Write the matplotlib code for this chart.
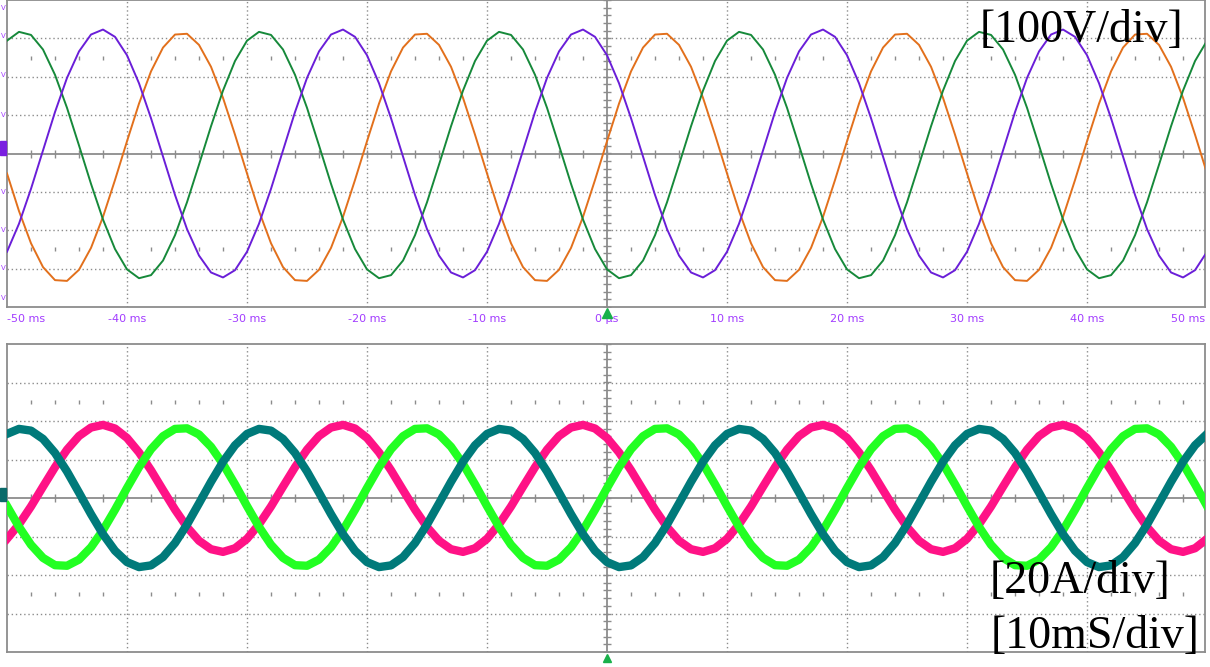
import numpy as np
import matplotlib
matplotlib.use("Agg")
import matplotlib.pyplot as plt
from matplotlib.patches import Rectangle

# time base of the scope capture, 1 ms per sample
time_ms = np.arange(-50, 51)

# phase voltages [V] (100 V/div)
v_green = [294, 317, 309, 271, 205, 119, 21, -79, -172, -249, -302, -325, -317, -279, -213, -127, -29, 71, 164, 241,
           294, 317, 309, 271, 205, 119, 21, -79, -172, -249, -302, -325, -317, -279, -213, -127, -29, 71, 164, 241,
           294, 317, 309, 271, 205, 119, 21, -79, -172, -249, -302, -325, -317, -279, -213, -127, -29, 71, 164, 241,
           294, 317, 309, 271, 205, 119, 21, -79, -172, -249, -302, -325, -317, -279, -213, -127, -29, 71, 164, 241,
           294, 317, 309, 271, 205, 119, 21, -79, -172, -249, -302, -325, -317, -279, -213, -127, -29, 71, 164, 241,
           294]
v_purple = [-256, -183, -92, 8, 108, 197, 266, 310, 323, 304, 256, 183, 92, -8, -108, -197, -266, -310, -323, -304,
            -256, -183, -92, 8, 108, 197, 266, 310, 323, 304, 256, 183, 92, -8, -108, -197, -266, -310, -323, -304,
            -256, -183, -92, 8, 108, 197, 266, 310, 323, 304, 256, 183, 92, -8, -108, -197, -266, -310, -323, -304,
            -256, -183, -92, 8, 108, 197, 266, 310, 323, 304, 256, 183, 92, -8, -108, -197, -266, -310, -323, -304,
            -256, -183, -92, 8, 108, 197, 266, 310, 323, 304, 256, 183, 92, -8, -108, -197, -266, -310, -323, -304,
            -256]
v_orange = [-52, -150, -234, -296, -330, -332, -303, -246, -165, -69, 32, 130, 214, 276, 310, 312, 283, 226, 145, 49,
            -52, -150, -234, -296, -330, -332, -303, -246, -165, -69, 32, 130, 214, 276, 310, 312, 283, 226, 145, 49,
            -52, -150, -234, -296, -330, -332, -303, -246, -165, -69, 32, 130, 214, 276, 310, 312, 283, 226, 145, 49,
            -52, -150, -234, -296, -330, -332, -303, -246, -165, -69, 32, 130, 214, 276, 310, 312, 283, 226, 145, 49,
            -52, -150, -234, -296, -330, -332, -303, -246, -165, -69, 32, 130, 214, 276, 310, 312, 283, 226, 145, 49,
            -52]

# phase currents [A] (20 A/div)
i_teal = [33.3, 35.9, 35.0, 30.7, 23.4, 13.8, 2.8, -8.4, -18.8, -27.4, -33.3, -35.9, -35.0, -30.7, -23.4, -13.8, -2.8, 8.4, 18.8, 27.4,
          33.3, 35.9, 35.0, 30.7, 23.4, 13.8, 2.8, -8.4, -18.8, -27.4, -33.3, -35.9, -35.0, -30.7, -23.4, -13.8, -2.8, 8.4, 18.8, 27.4,
          33.3, 35.9, 35.0, 30.7, 23.4, 13.8, 2.8, -8.4, -18.8, -27.4, -33.3, -35.9, -35.0, -30.7, -23.4, -13.8, -2.8, 8.4, 18.8, 27.4,
          33.3, 35.9, 35.0, 30.7, 23.4, 13.8, 2.8, -8.4, -18.8, -27.4, -33.3, -35.9, -35.0, -30.7, -23.4, -13.8, -2.8, 8.4, 18.8, 27.4,
          33.3, 35.9, 35.0, 30.7, 23.4, 13.8, 2.8, -8.4, -18.8, -27.4, -33.3, -35.9, -35.0, -30.7, -23.4, -13.8, -2.8, 8.4, 18.8, 27.4,
          33.3]
i_lime = [-4.2, -15.0, -24.3, -31.1, -34.9, -35.2, -32.0, -25.6, -16.7, -6.1, 5.2, 16.0, 25.3, 32.1, 35.9, 36.2, 33.0, 26.6, 17.7, 7.1,
          -4.2, -15.0, -24.3, -31.1, -34.9, -35.2, -32.0, -25.6, -16.7, -6.1, 5.2, 16.0, 25.3, 32.1, 35.9, 36.2, 33.0, 26.6, 17.7, 7.1,
          -4.2, -15.0, -24.3, -31.1, -34.9, -35.2, -32.0, -25.6, -16.7, -6.1, 5.2, 16.0, 25.3, 32.1, 35.9, 36.2, 33.0, 26.6, 17.7, 7.1,
          -4.2, -15.0, -24.3, -31.1, -34.9, -35.2, -32.0, -25.6, -16.7, -6.1, 5.2, 16.0, 25.3, 32.1, 35.9, 36.2, 33.0, 26.6, 17.7, 7.1,
          -4.2, -15.0, -24.3, -31.1, -34.9, -35.2, -32.0, -25.6, -16.7, -6.1, 5.2, 16.0, 25.3, 32.1, 35.9, 36.2, 33.0, 26.6, 17.7, 7.1,
          -4.2]
i_pink = [-21.2, -13.7, -4.4, 5.9, 16.0, 25.1, 32.2, 36.6, 38.0, 36.1, 31.2, 23.7, 14.4, 4.1, -6.0, -15.1, -22.2, -26.6, -28.0, -26.1,
          -21.2, -13.7, -4.4, 5.9, 16.0, 25.1, 32.2, 36.6, 38.0, 36.1, 31.2, 23.7, 14.4, 4.1, -6.0, -15.1, -22.2, -26.6, -28.0, -26.1,
          -21.2, -13.7, -4.4, 5.9, 16.0, 25.1, 32.2, 36.6, 38.0, 36.1, 31.2, 23.7, 14.4, 4.1, -6.0, -15.1, -22.2, -26.6, -28.0, -26.1,
          -21.2, -13.7, -4.4, 5.9, 16.0, 25.1, 32.2, 36.6, 38.0, 36.1, 31.2, 23.7, 14.4, 4.1, -6.0, -15.1, -22.2, -26.6, -28.0, -26.1,
          -21.2, -13.7, -4.4, 5.9, 16.0, 25.1, 32.2, 36.6, 38.0, 36.1, 31.2, 23.7, 14.4, 4.1, -6.0, -15.1, -22.2, -26.6, -28.0, -26.1,
          -21.2]

tick_ms = [-50, -40, -30, -20, -10, 0, 10, 20, 30, 40, 50]
tick_text = ["-50 ms", "-40 ms", "-30 ms", "-20 ms", "-10 ms", "0 \u00b5s",
             "10 ms", "20 ms", "30 ms", "40 ms", "50 ms"]

GRID = "#8c8c8c"
LABEL = "#a23cff"
W, H = 1210, 667


def scope_axes(rect_px, vdiv):
    x0, y0, x1, y1 = rect_px
    ax = fig.add_axes([x0 / W, 1 - y1 / H, (x1 - x0) / W, (y1 - y0) / H])
    ax.set_xlim(-50, 49.83)
    ax.set_ylim(-4 * vdiv, 4 * vdiv)
    ax.set_xticks([])
    ax.set_yticks([])
    for s in ax.spines.values():
        s.set_color(GRID)
        s.set_linewidth(1.3)
    # dotted graticule
    for x in range(-40, 50, 10):
        if x != 0:
            ax.axvline(x, color=GRID, lw=1, ls=(0, (1, 2)), zorder=1)
    for k in [-3, -2, -1, 1, 2, 3]:
        ax.axhline(k * vdiv, color=GRID, lw=1, ls=(0, (1, 2)), zorder=1)
    # solid centre cross with minor ticks
    ax.axhline(0, color=GRID, lw=1.3, zorder=1)
    ax.axvline(0, color=GRID, lw=1.3, zorder=1)
    mx = np.arange(-48, 50, 2)
    ax.plot(mx, np.zeros_like(mx), ls="none", marker="|", ms=6, mew=1, color=GRID, zorder=1)
    my = np.arange(-4, 4.01, 0.2) * vdiv
    ax.plot(np.zeros_like(my), my, ls="none", marker="_", ms=6, mew=1, color=GRID, zorder=1)
    mx2 = mx[mx % 10 != 0]
    for yy in (2.5 * vdiv, -2.5 * vdiv):
        ax.plot(mx2, np.full_like(mx2, yy, dtype=float), ls="none", marker="|",
                ms=3, mew=1, color=GRID, zorder=1)
    return ax


fig = plt.figure(figsize=(W / 100, H / 100), dpi=100)

ax1 = scope_axes((7, 0, 1205, 307), 100)
ax1.plot(time_ms, v_orange, color="#e2701c", lw=1.4, zorder=3)
ax1.plot(time_ms, v_green, color="#16893a", lw=1.4, zorder=3)
ax1.plot(time_ms, v_purple, color="#6a1ed8", lw=1.4, zorder=3)

ax2 = scope_axes((7, 344, 1205, 652), 20)
ax2.plot(time_ms, i_pink, color="#ff1286", lw=6, zorder=3)
ax2.plot(time_ms, i_lime, color="#22ff22", lw=6, zorder=3)
ax2.plot(time_ms, i_teal, color="#007a7a", lw=6, zorder=3)

# time labels between the two screens
for t, s in zip(tick_ms, tick_text):
    ha = "center"
    x = t
    if t == -50:
        ha = "left"
    elif t == 50:
        ha, x = "right", 49.8
    ax1.text(x, -0.04, s, transform=ax1.get_xaxis_transform(), ha=ha, va="center",
             fontsize=8, color=LABEL, family="DejaVu Sans")

# trigger markers
ax1.plot([0], [-0.02], transform=ax1.get_xaxis_transform(), marker="^", ms=7,
         color="#19b04a", clip_on=False, zorder=5)
ax2.plot([0], [-0.02], transform=ax2.get_xaxis_transform(), marker="^", ms=6,
         color="#19b04a", clip_on=False, zorder=5)

# channel markers on the left edge
fig.patches.append(Rectangle((0, 1 - 155 / H), 6 / W, 14 / H, transform=fig.transFigure,
                             color="#7a1fe0", zorder=5))
fig.patches.append(Rectangle((0, 1 - 501 / H), 6 / W, 13 / H, transform=fig.transFigure,
                             color="#0a6a6a", zorder=5))

# level labels at the left border
for yy in [8, 36, 75, 115, 192, 230, 268, 298]:
    fig.text(0.5 / W, 1 - yy / H, "V", ha="left", va="center", fontsize=5, color=LABEL)

serif = ["Liberation Serif", "DejaVu Serif"]
fig.text(1081 / W, 1 - 31 / H, "[100V/div]", ha="center", va="center", fontsize=33,
         family=serif, color="black")
fig.text(1080 / W, 1 - 582 / H, "[20A/div]", ha="center", va="center", fontsize=33,
         family=serif, color="black")
fig.text(1095 / W, 1 - 637 / H, "[10mS/div]", ha="center", va="center", fontsize=33,
         family=serif, color="black")

fig.savefig("out.png", dpi=100)
